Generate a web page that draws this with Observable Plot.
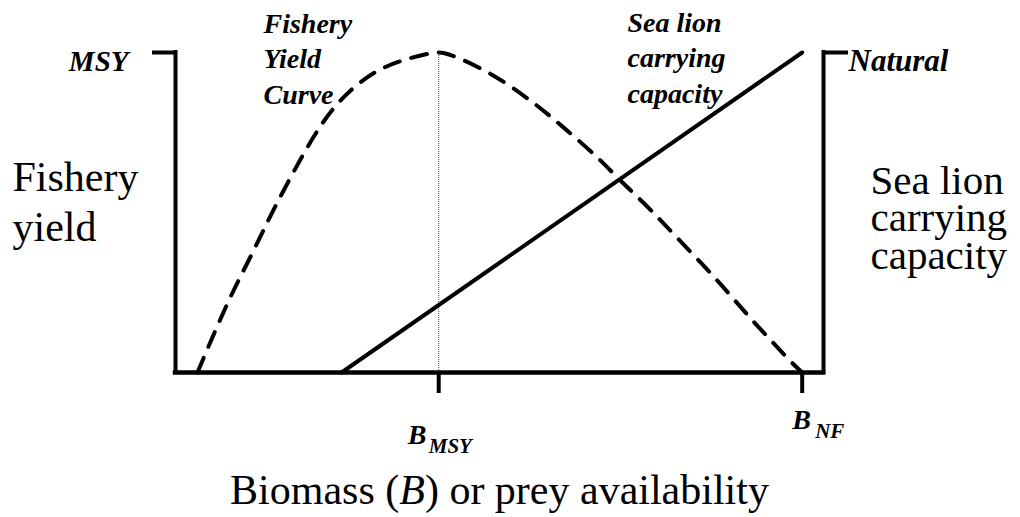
<!DOCTYPE html>
<html>
<head>
<meta charset="utf-8">
<script src="https://cdn.jsdelivr.net/npm/d3@7"></script>
<script src="https://cdn.jsdelivr.net/npm/@observablehq/plot@0.6"></script>
<style>
  html, body { margin: 0; padding: 0; background: #ffffff; }
</style>
</head>
<body>
<div id="chart"></div>
<script>
// ---- Data (biomass relative to B_NF; yield relative to MSY) ----
const curveB     = [0.035, 0.083, 0.123, 0.164, 0.220, 0.252, 0.284, 0.322, 0.364, 0.420, 0.439, 0.502, 0.566, 0.619, 0.673, 0.710, 0.753, 0.797, 0.861, 0.922, 0.984, 1.000];
const curveYield = [0.000, 0.216, 0.375, 0.537, 0.735, 0.825, 0.889, 0.942, 0.976, 1.000, 0.992, 0.934, 0.850, 0.766, 0.672, 0.600, 0.518, 0.428, 0.295, 0.160, 0.030, 0.000];
const carryB = [0.265, 1.0];
const carryK = [0.0, 1.0];
const xMax = 1.034;
const xTicks = [0.42, 1.0];
const xTickSubs = ["MSY", "NF"];
const yTickLeft = ["MSY"];
const yTickRight = ["Natural"];
const leftTitle = "Fishery\nyield";
const rightTitle = "Sea lion\ncarrying\ncapacity";
const curveLabel = "Fishery\nYield\nCurve";
const lineLabel = "Sea lion\ncarrying\ncapacity";
const xTitleParts = ["Biomass (", "B", ") or prey availability"];

const yieldCurve = curveB.map((b, i) => ({b, v: curveYield[i]}));
const carry = carryB.map((b, i) => ({b, v: carryK[i]}));

const serif = "Liberation Serif";
const bi = {fontFamily: serif, fontWeight: "bold", fontStyle: "italic", fill: "#000"};
const reg = {fontFamily: serif, fill: "#000"};

const chart = Plot.plot({
  width: 1020,
  height: 517,
  marginLeft: 175,
  marginRight: 197,
  marginTop: 52,
  marginBottom: 145,
  x: {domain: [0, xMax]},
  y: {domain: [0, 1]},
  style: {fontFamily: serif, background: "#ffffff", color: "#000"},
  marks: [
    // dotted B_MSY guide
    Plot.ruleX([xTicks[0]], {y1: 0, y2: 1, stroke: "#444", strokeWidth: 1, strokeDasharray: "1,1"}),
    // fishery yield curve (dashed)
    Plot.line(yieldCurve, {x: "b", y: "v", curve: "catmull-rom", stroke: "#000", strokeWidth: 4, strokeDasharray: "16,12"}),
    // sea lion carrying capacity line
    Plot.line(carry, {x: "b", y: "v", stroke: "#000", strokeWidth: 4}),
    // frame lines
    Plot.ruleY([0], {x1: 0, x2: xMax, stroke: "#000", strokeWidth: 4.5, strokeLinecap: "square"}),
    Plot.ruleX([0, xMax], {y1: 0, y2: 1, stroke: "#000", strokeWidth: 4, strokeLinecap: "square"}),
    // axis ticks
    Plot.axisY({anchor: "left", ticks: [1], tickSize: 23, strokeWidth: 4, tickFormat: () => "", label: null}),
    Plot.axisY({anchor: "right", ticks: [1], tickSize: 24, strokeWidth: 4, tickFormat: () => "", label: null}),
    Plot.axisX({anchor: "bottom", ticks: xTicks, tickSize: 21, strokeWidth: 4, tickFormat: () => "", label: null}),
    // y tick labels
    Plot.text(yTickLeft, {frameAnchor: "top-left", text: d => d, textAnchor: "end", lineAnchor: "bottom", dx: -47, dy: 18, fontSize: 29, ...bi}),
    Plot.text(yTickRight, {frameAnchor: "top-right", text: d => d, textAnchor: "start", lineAnchor: "bottom", dx: 25, dy: 18, fontSize: 31, ...bi}),
    // side titles
    Plot.text([leftTitle], {frameAnchor: "top-left", text: d => d, textAnchor: "start", lineAnchor: "bottom", dx: -163, dy: 188, fontSize: 42, lineHeight: 50 / 42, ...reg}),
    Plot.text([rightTitle], {frameAnchor: "top-right", text: d => d, textAnchor: "start", lineAnchor: "bottom", dx: 47, dy: 216, fontSize: 41, lineHeight: 37.5 / 41, ...reg}),
    // curve annotations
    Plot.text([curveLabel], {frameAnchor: "top-left", text: d => d, textAnchor: "start", lineAnchor: "bottom", dx: 88, dy: 51, fontSize: 28, lineHeight: 35.5 / 28, ...bi}),
    Plot.text([lineLabel], {frameAnchor: "top-left", text: d => d, textAnchor: "start", lineAnchor: "bottom", dx: 452, dy: 50, fontSize: 28, lineHeight: 35.5 / 28, ...bi}),
    // x tick labels B_MSY, B_NF
    Plot.text([xTicks[0]], {x: d => d, frameAnchor: "bottom", text: () => "B", textAnchor: "start", lineAnchor: "bottom", dx: -31, dy: 71, fontSize: 28, ...bi}),
    Plot.text([xTicks[0]], {x: d => d, frameAnchor: "bottom", text: () => xTickSubs[0], textAnchor: "start", lineAnchor: "bottom", dx: -10, dy: 80, fontSize: 21, ...bi}),
    Plot.text([xTicks[1]], {x: d => d, frameAnchor: "bottom", text: () => "B", textAnchor: "start", lineAnchor: "bottom", dx: -10, dy: 56, fontSize: 28, ...bi}),
    Plot.text([xTicks[1]], {x: d => d, frameAnchor: "bottom", text: () => xTickSubs[1], textAnchor: "start", lineAnchor: "bottom", dx: 13, dy: 65, fontSize: 21, ...bi}),
    // x title
    Plot.text([xTitleParts.join("")], {frameAnchor: "bottom", text: d => d, textAnchor: "middle", lineAnchor: "bottom", dy: 131, fontSize: 42, ...reg})
  ]
});

document.getElementById("chart").appendChild(chart);

// italicise the "B" in the x title
const fullTitle = xTitleParts.join("");
chart.querySelectorAll("text").forEach(t => {
  if (t.textContent === fullTitle && t.children.length === 0) {
    t.textContent = "";
    xTitleParts.forEach((part, i) => {
      const ts = document.createElementNS("http://www.w3.org/2000/svg", "tspan");
      ts.textContent = part;
      if (i === 1) ts.setAttribute("font-style", "italic");
      t.appendChild(ts);
    });
  }
});
</script>
</body>
</html>
